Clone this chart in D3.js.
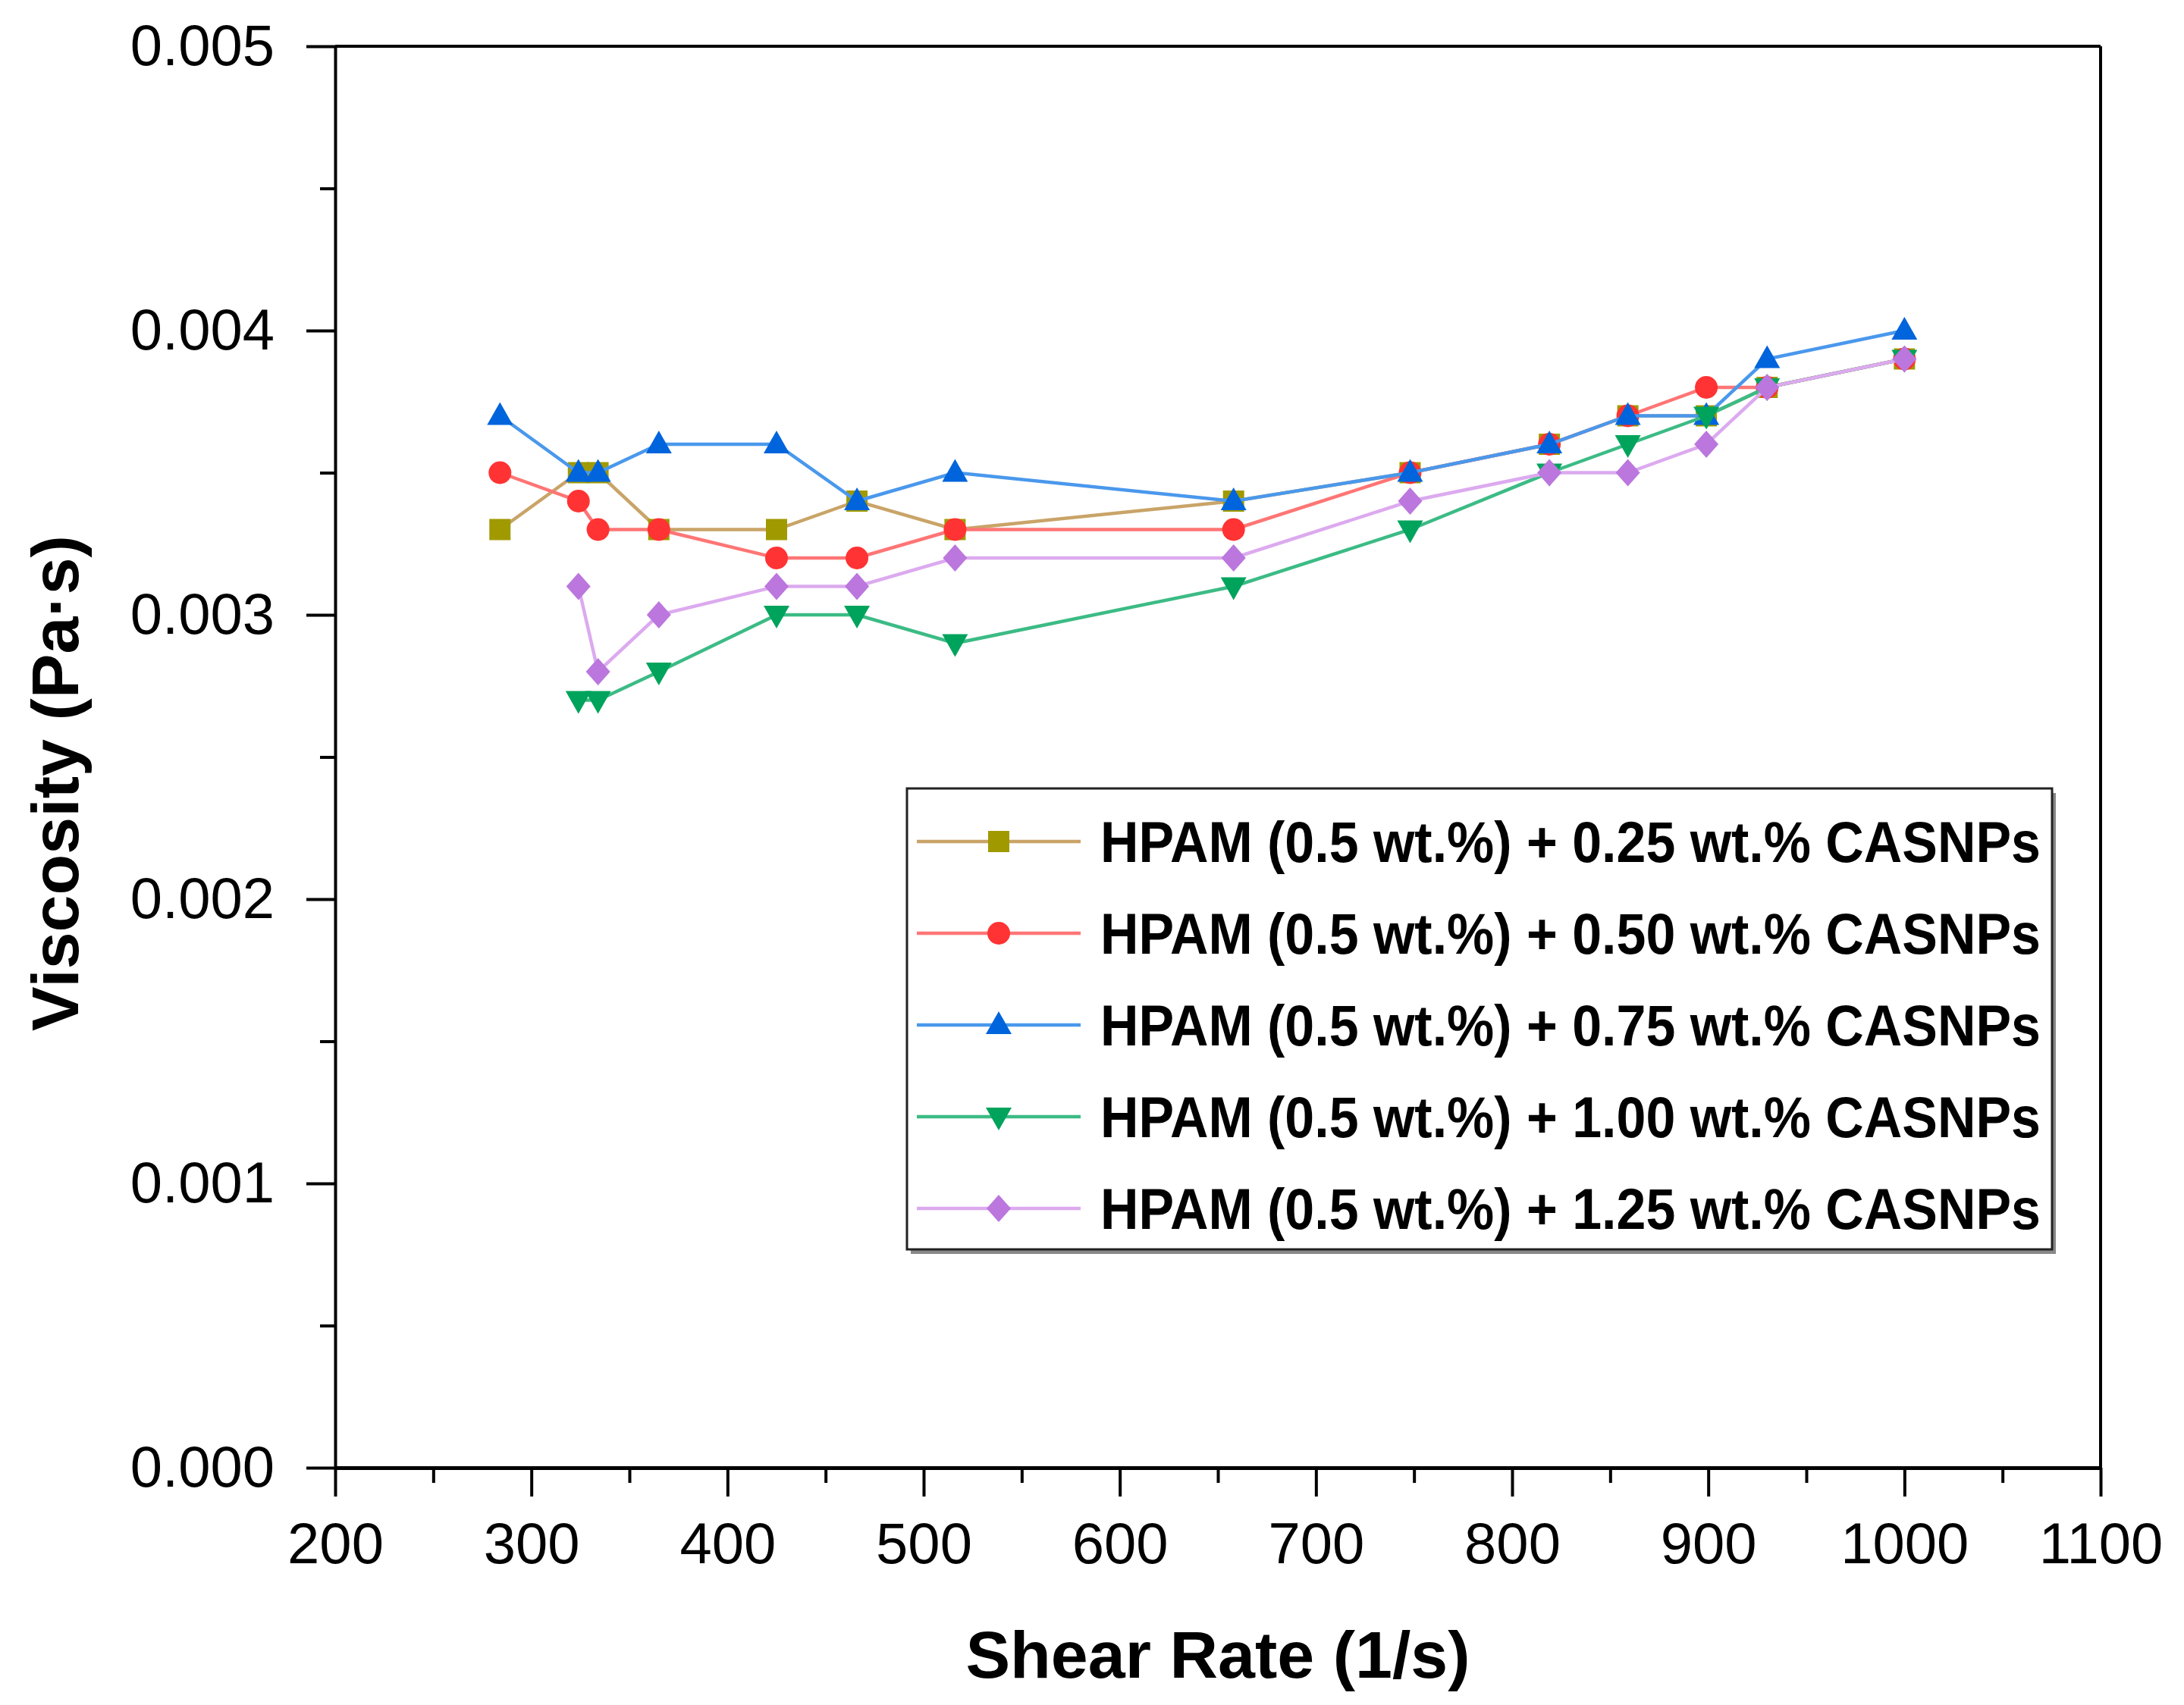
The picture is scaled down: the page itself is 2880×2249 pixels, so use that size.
<!DOCTYPE html>
<html lang="en">
<head>
	<meta charset="UTF-8">
	<script src="https://d3js.org/d3.v7.min.js"></script>
	<title>Viscosity vs Shear Rate</title>
	<style type="text/css">
		body { margin: 0; background: #fff; }
		.axis path, .axis line { stroke: #000; }
		.axis text { font-family: "Liberation Sans", Arial, sans-serif; font-size: 76px; fill: #000; }
	</style>
</head>
<body>
	<svg width="2880" height="2249"></svg>
<script>
// shear rate (1/s)
var shear = [284, 324, 334, 365, 425, 466, 516, 658, 748, 819, 859, 899, 930, 1000];
var shearB = [324, 334, 365, 425, 466, 516, 658, 748, 819, 859, 899, 930, 1000];

// viscosity (Pa·s)
var visc025 = [0.0033, 0.0035, 0.0035, 0.0033, 0.0033, 0.0034, 0.0033, 0.0034, 0.0035, 0.0036, 0.0037, 0.0037, 0.0038, 0.0039];
var visc050 = [0.0035, 0.0034, 0.0033, 0.0033, 0.0032, 0.0032, 0.0033, 0.0033, 0.0035, 0.0036, 0.0037, 0.0038, 0.0038, 0.0039];
var visc075 = [0.0037, 0.0035, 0.0035, 0.0036, 0.0036, 0.0034, 0.0035, 0.0034, 0.0035, 0.0036, 0.0037, 0.0037, 0.0039, 0.0040];
var visc100 = [0.0027, 0.0027, 0.0028, 0.0030, 0.0030, 0.0029, 0.0031, 0.0033, 0.0035, 0.0036, 0.0037, 0.0038, 0.0039];
var visc125 = [0.0031, 0.0028, 0.0030, 0.0031, 0.0031, 0.0032, 0.0032, 0.0034, 0.0035, 0.0035, 0.0036, 0.0038, 0.0039];

var seriesNames = [
	"HPAM (0.5 wt.%) + 0.25 wt.% CASNPs",
	"HPAM (0.5 wt.%) + 0.50 wt.% CASNPs",
	"HPAM (0.5 wt.%) + 0.75 wt.% CASNPs",
	"HPAM (0.5 wt.%) + 1.00 wt.% CASNPs",
	"HPAM (0.5 wt.%) + 1.25 wt.% CASNPs"
];

var xTicks = [200, 300, 400, 500, 600, 700, 800, 900, 1000, 1100];
var yTicks = [0.000, 0.001, 0.002, 0.003, 0.004, 0.005];

var svg = d3.select("svg");
var margin = {left: 442, right: 110, top: 61, bottom: 313},
	width = 2880 - margin.left - margin.right,
	height = 2249 - margin.top - margin.bottom;

var xScale = d3.scaleLinear().domain([200, 1100]).range([0, width]),
	yScale = d3.scaleLinear().domain([0, 0.005]).range([height, 0]);

var g = svg.append("g")
	.attr("transform", "translate(" + margin.left + "," + margin.top + ")");

// minor ticks
var xMinor = xTicks.slice(0, -1).map(function(d) { return d + 50; });
var yMinor = yTicks.slice(0, -1).map(function(d) { return d + 0.0005; });

g.append("g").attr("class", "axis")
	.attr("transform", "translate(0," + height + ")")
	.call(d3.axisBottom(xScale).tickValues(xMinor).tickSize(20).tickFormat(""))
	.call(function(s) { s.select(".domain").remove(); s.selectAll("line").attr("stroke-width", 4); });
g.append("g").attr("class", "axis")
	.call(d3.axisLeft(yScale).tickValues(yMinor).tickSize(20).tickFormat(""))
	.call(function(s) { s.select(".domain").remove(); s.selectAll("line").attr("stroke-width", 4); });

// major axes
g.append("g").attr("class", "axis")
	.attr("transform", "translate(0," + height + ")")
	.call(d3.axisBottom(xScale).tickValues(xTicks).tickSize(38).tickPadding(34).tickSizeOuter(0).tickFormat(d3.format("d")))
	.call(function(s) { s.select(".domain").attr("stroke-width", 5); s.selectAll("line").attr("stroke-width", 4); });
g.append("g").attr("class", "axis")
	.call(d3.axisLeft(yScale).tickValues(yTicks).tickSize(38).tickPadding(42).tickSizeOuter(0).tickFormat(d3.format(".3f")))
	.call(function(s) { s.select(".domain").attr("stroke-width", 4); s.selectAll("line").attr("stroke-width", 4); });

// top and right frame
g.append("line").attr("x1", 0).attr("x2", width).attr("y1", 0).attr("y2", 0)
	.attr("stroke", "#000").attr("stroke-width", 4);
g.append("line").attr("x1", width).attr("x2", width).attr("y1", 0).attr("y2", height)
	.attr("stroke", "#000").attr("stroke-width", 4);

// axis titles
svg.append("text")
	.attr("x", margin.left + width / 2)
	.attr("y", 2213)
	.attr("text-anchor", "middle")
	.attr("font-family", "Liberation Sans, Arial, sans-serif")
	.attr("font-weight", "bold")
	.attr("font-size", "88px")
	.text("Shear Rate (1/s)");

svg.append("text")
	.attr("transform", "translate(103,1033) rotate(-90)")
	.attr("text-anchor", "middle")
	.attr("font-family", "Liberation Sans, Arial, sans-serif")
	.attr("font-weight", "bold")
	.attr("font-size", "88px")
	.text("Viscosity (Pa\u00b7s)");

// series
var markerColors = ["#a09a00", "#ff3333", "#0064dc", "#00a35c", "#bb77dd"];
var lineColors = ["#c9a468", "#ff7575", "#4a98ec", "#3cbb85", "#dcaaef"];
var shapes = [
	"M-14,-14h28v28h-28Z",
	"M0,-15A15,15 0 1,1 0,15A15,15 0 1,1 0,-15Z",
	"M0,-18L17,12L-17,12Z",
	"M0,18L17,-12L-17,-12Z",
	"M0,-18L16,0L0,18L-16,0Z"
];

var data = [
	{x: shear, y: visc025},
	{x: shear, y: visc050},
	{x: shear, y: visc075},
	{x: shearB, y: visc100},
	{x: shearB, y: visc125}
];

var line = d3.line()
	.x(function(d) { return xScale(d[0]); })
	.y(function(d) { return yScale(d[1]); });

data.forEach(function(s, i) {
	var pts = s.x.map(function(v, j) { return [v, s.y[j]]; });
	g.append("path")
		.datum(pts)
		.attr("fill", "none")
		.attr("stroke", lineColors[i])
		.attr("stroke-width", 4.5)
		.attr("d", line);
	g.selectAll(".m" + i)
		.data(pts)
		.enter().append("path")
		.attr("class", "m" + i)
		.attr("transform", function(d) { return "translate(" + xScale(d[0]) + "," + yScale(d[1]) + ")"; })
		.attr("d", shapes[i])
		.attr("fill", markerColors[i]);
});

// legend
var lg = svg.append("g").attr("transform", "translate(1196,1040)");
lg.append("rect")
	.attr("x", 5).attr("y", 6).attr("width", 1510).attr("height", 608)
	.attr("fill", "#888");
lg.append("rect")
	.attr("x", 0).attr("y", 0).attr("width", 1510).attr("height", 608)
	.attr("fill", "#fff").attr("stroke", "#222").attr("stroke-width", 3);

seriesNames.forEach(function(name, i) {
	var cy = 70 + i * 121;
	lg.append("line")
		.attr("x1", 13).attr("x2", 229).attr("y1", cy).attr("y2", cy)
		.attr("stroke", lineColors[i]).attr("stroke-width", 4.5);
	lg.append("path")
		.attr("transform", "translate(121," + cy + ")")
		.attr("d", shapes[i])
		.attr("fill", markerColors[i]);
	lg.append("text")
		.attr("x", 255).attr("y", cy + 27)
		.attr("font-family", "Liberation Sans, Arial, sans-serif")
		.attr("font-weight", "bold")
		.attr("font-size", "76px")
		.attr("textLength", 1240)
		.attr("lengthAdjust", "spacingAndGlyphs")
		.text(name);
});
</script>
</body>
</html>
